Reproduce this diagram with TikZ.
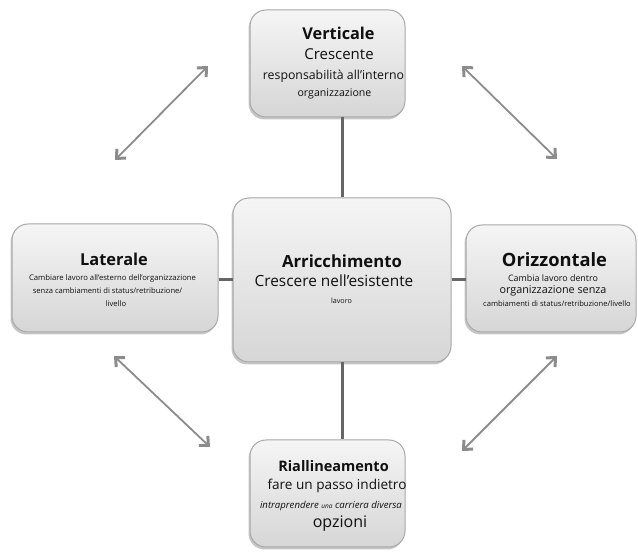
\documentclass[tikz,border=0pt]{standalone}
\usepackage{fontspec}
\setmainfont{Open Sans}
\usetikzlibrary{arrows.meta,shadows}
\definecolor{boxline}{HTML}{A8A8A8}
\definecolor{boxtop}{HTML}{F5F5F5}
\definecolor{boxbot}{HTML}{D6D6D6}
\definecolor{linkc}{HTML}{666666}
\definecolor{arrc}{HTML}{8C8C8C}
\definecolor{txt}{HTML}{101010}
\tikzset{
  box/.style={draw=boxline, line width=1pt, rounded corners=16pt,
    top color=boxtop, bottom color=boxbot,
    drop shadow={shadow xshift=-1.5pt, shadow yshift=-2.5pt, opacity=0.45, fill=gray}},
  link/.style={draw=linkc, line width=3pt},
  dbl/.style={draw=arrc, line width=1.8pt,
    {Straight Barb[length=7pt,width=13pt,line width=3pt]}-{Straight Barb[length=7pt,width=13pt,line width=3pt]}},
  lbl/.style={anchor=base, inner sep=0pt, text=txt},
}
\begin{document}
\begin{tikzpicture}[x=1pt,y=-1pt]
\useasboundingbox (0,0) rectangle (638,553);
% boxes
\node[box, minimum width=155pt, minimum height=107pt] (top) at (327.5,63.5) {};
\node[box, minimum width=218pt, minimum height=164pt] (mid) at (342,280) {};
\node[box, minimum width=206pt, minimum height=108pt] (left) at (115,278) {};
\node[box, minimum width=170pt, minimum height=107pt] (right) at (551,278.5) {};
\node[box, minimum width=155pt, minimum height=107pt] (bot) at (327.5,493.5) {};
% connectors
\draw[link] (mid.north) -- (mid.north |- top.south);
\draw[link] (mid.south) -- (mid.south |- bot.north);
\draw[link] (mid.west) -- (mid.west -| left.east);
\draw[link] (mid.east) -- (mid.east -| right.west);
% arrows
\coordinate (a1) at (115,160); \coordinate (a2) at (208,66);
\coordinate (b1) at (462,66); \coordinate (b2) at (557,159);
\coordinate (c1) at (114,356); \coordinate (c2) at (210,447);
\coordinate (d1) at (462,451); \coordinate (d2) at (557,356);
\draw[dbl] (a1) -- (a2);
\draw[dbl] (b1) -- (b2);
\draw[dbl] (c1) -- (c2);
\draw[dbl] (d1) -- (d2);
% top text
\node[lbl, font=\fontsize{16.3}{18}\selectfont\bfseries] (t1) at (338.5,40) {Verticale};
\node[lbl, font=\fontsize{15}{17}\selectfont] (t2) at (339,60) {Crescente};
\node[lbl, font=\fontsize{12.3}{14}\selectfont] (t3) at (333.5,80) {responsabilità all'interno};
\node[lbl, font=\fontsize{10.6}{12}\selectfont] (t4) at (334.5,97) {organizzazione};
% center text
\node[lbl, font=\fontsize{16.7}{19}\selectfont\bfseries] (m1) at (342,268) {Arricchimento};
\node[lbl, font=\fontsize{15.4}{18}\selectfont] (m2) at (334,287) {Crescere nell’esistente};
\node[lbl, font=\fontsize{7.2}{8}\selectfont] (m3) at (341.5,304) {lavoro};
% left text
\node[lbl, font=\fontsize{16.4}{19}\selectfont\bfseries] (l1) at (114,266) {Laterale};
\node[lbl, font=\fontsize{7.7}{9}\selectfont] (l2) at (112.5,281) {Cambiare lavoro all'esterno dell'organizzazione};
\node[lbl, font=\fontsize{7.6}{9}\selectfont] (l3) at (107.5,294) {senza cambiamenti di status/retribuzione/};
\node[lbl, font=\fontsize{7.6}{9}\selectfont] (l4) at (116,307) {livello};
% right text
\node[lbl, font=\fontsize{18.3}{21}\selectfont\bfseries] (r1) at (554.5,267) {Orizzontale};
\node[lbl, font=\fontsize{8.9}{10}\selectfont] (r2) at (553,282) {Cambia lavoro dentro};
\node[lbl, font=\fontsize{10.8}{12}\selectfont] (r3) at (553,294) {organizzazione senza};
\node[lbl, font=\fontsize{7.6}{9}\selectfont] (r4) at (557,307) {cambiamenti di status/retribuzione/livello};
% bottom text
\node[lbl, font=\fontsize{14.5}{17}\selectfont\bfseries] (b1t) at (333.5,472) {Riallineamento};
\node[lbl, font=\fontsize{13.6}{16}\selectfont] (b2t) at (337,490) {fare un passo indietro};
\node[lbl, font=\fontsize{9.6}{11}\selectfont\itshape] (b3t) at (331,509) {intraprendere {\fontsize{6.5}{7}\selectfont una} carriera diversa};
\node[lbl, font=\fontsize{16}{18}\selectfont] (b4t) at (340,528) {opzioni};
\end{tikzpicture}
\end{document}
